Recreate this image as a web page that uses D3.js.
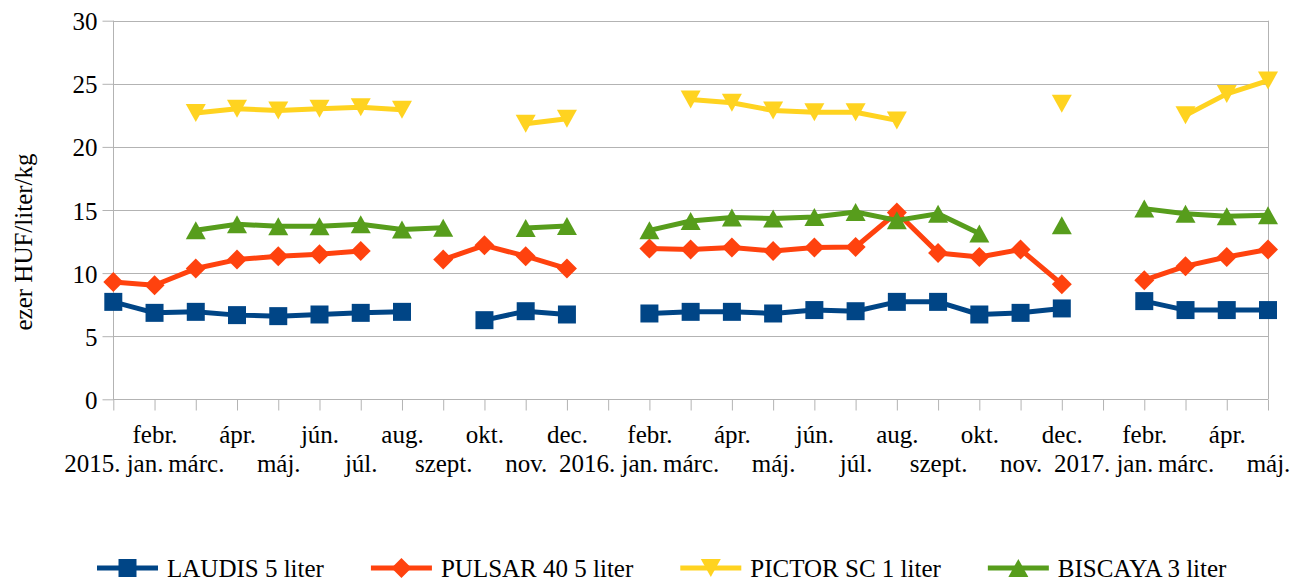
<!DOCTYPE html>
<html>
<head>
<meta charset="utf-8">
<title>Növényvédő szer árak</title>
<script src="https://d3js.org/d3.v7.min.js"></script>
<style>
body { margin: 0; background: #fff; }
svg text { font-family: "Liberation Serif", "Times New Roman", serif; fill: #000; }
.grid line { stroke: #b3b3b3; stroke-width: 1; }
.axis path, .axis line { stroke: #b3b3b3; }
.series path.line { fill: none; stroke-width: 5; stroke-linejoin: round; }
</style>
</head>
<body>
<div id="chart"></div>
<script>
// month labels, 2015 jan .. 2017 máj
var months = ["2015. jan.", "febr.", "márc.", "ápr.", "máj.", "jún.", "júl.", "aug.", "szept.", "okt.", "nov.", "dec.",
  "2016. jan.", "febr.", "márc.", "ápr.", "máj.", "jún.", "júl.", "aug.", "szept.", "okt.", "nov.", "dec.",
  "2017. jan.", "febr.", "márc.", "ápr.", "máj."];

// ezer HUF / liter / kg, null = no data
var laudis = [7.72, 6.85, 6.93, 6.67, 6.59, 6.72, 6.85, 6.93, null, 6.27, 6.98, 6.72,
  null, 6.80, 6.93, 6.93, 6.80, 7.07, 6.98, 7.72, 7.72, 6.72, 6.85, 7.2,
  null, 7.78, 7.07, 7.07, 7.07];
var pulsar = [9.30, 9.04, 10.36, 11.07, 11.34, 11.5, 11.76, null, 11.07, 12.2, 11.34, 10.36,
  null, 11.94, 11.87, 12.03, 11.76, 12.03, 12.07, 14.8, 11.6, 11.28, 11.87, 9.12,
  null, 9.44, 10.55, 11.28, 11.87];
var pictor = [null, null, 22.68, 23.02, 22.89, 23.02, 23.15, 22.94, null, null, 21.83, 22.23,
  null, null, 23.76, 23.5, 22.89, 22.75, 22.75, 22.1, null, null, null, 23.42,
  null, null, 22.5, 24.2, 25.26];
var biscaya = [null, null, 13.39, 13.87, 13.71, 13.71, 13.87, 13.45, 13.6, null, 13.58, 13.74,
  null, 13.39, 14.13, 14.4, 14.32, 14.45, 14.84, 14.18, 14.71, 13.13, null, 13.79,
  null, 15.11, 14.71, 14.5, 14.58];

var seriesNames = ["LAUDIS 5 liter", "PULSAR 40 5 liter", "PICTOR SC 1 liter", "BISCAYA 3 liter"];
var yTicks = [0, 5, 10, 15, 20, 25, 30];

var W = 1291, H = 581;
var pLeft = 113.3, pRight = 1268, pTop = 20.7, pBottom = 399.3;

var series = [
  { name: seriesNames[0], values: laudis, color: "#004586", marker: "square" },
  { name: seriesNames[1], values: pulsar, color: "#ff420e", marker: "diamond" },
  { name: seriesNames[2], values: pictor, color: "#ffd320", marker: "down" },
  { name: seriesNames[3], values: biscaya, color: "#579d1c", marker: "up" }
];

var x = d3.scalePoint().domain(d3.range(months.length)).range([pLeft, pRight]);
var y = d3.scaleLinear().domain([0, 30]).range([pBottom, pTop]);

// marker shapes, roughly 18px boxes
function markerPath(kind) {
  var s = 9;
  if (kind === "square") return "M" + -s + "," + -s + "H" + s + "V" + s + "H" + -s + "Z";
  if (kind === "diamond") return "M0," + (-s - 1) + "L" + (s + 1) + ",0L0," + (s + 1) + "L" + (-s - 1) + ",0Z";
  if (kind === "down") return "M" + (-s - 1) + "," + -s + "L" + (s + 1) + "," + -s + "L0," + s + "Z";
  return "M" + (-s - 1) + "," + s + "L" + (s + 1) + "," + s + "L0," + -s + "Z";
}

var svg = d3.select("#chart").append("svg")
    .attr("width", W)
    .attr("height", H);

// horizontal gridlines
svg.append("g")
    .attr("class", "grid")
  .selectAll("line")
    .data(yTicks)
  .enter().append("line")
    .attr("x1", pLeft)
    .attr("x2", pRight)
    .attr("y1", function(d) { return Math.round(y(d)) + 0.5; })
    .attr("y2", function(d) { return Math.round(y(d)) + 0.5; });

// right border of the plot
svg.append("line")
    .attr("x1", Math.round(pRight) + 0.5).attr("x2", Math.round(pRight) + 0.5)
    .attr("y1", pTop).attr("y2", pBottom)
    .attr("stroke", "#b3b3b3");

// y axis
var yAxis = svg.append("g")
    .attr("class", "axis")
    .attr("transform", "translate(" + (Math.round(pLeft) + 0.5) + ",0)")
    .call(d3.axisLeft(y).tickValues(yTicks).tickSize(11).tickPadding(5));
yAxis.select(".domain").attr("d", "M0," + pTop + "V" + pBottom);
yAxis.selectAll("text")
    .style("font-size", "25px")
    .style("font-family", "Liberation Serif")
    .attr("dy", "0.36em");

// x axis, labels alternate between two rows
var xAxis = svg.append("g")
    .attr("class", "axis")
    .attr("transform", "translate(0," + (Math.round(pBottom) + 0.5) + ")")
    .call(d3.axisBottom(x).tickSize(11).tickFormat(function(i) { return months[i]; }));
xAxis.select(".domain").attr("d", "M" + pLeft + ",0H" + pRight);
xAxis.selectAll("text")
    .style("font-size", "25px")
    .style("font-family", "Liberation Serif")
    .attr("dy", null)
    .attr("y", function(i) { return i % 2 === 1 ? 43.5 : 72.5; });

// y axis title
svg.append("text")
    .attr("transform", "translate(32,242) rotate(-90)")
    .attr("text-anchor", "middle")
    .style("font-size", "25px")
    .text("ezer HUF/liter/kg");

var line = d3.line()
    .defined(function(d) { return d != null; })
    .x(function(d, i) { return x(i); })
    .y(function(d) { return y(d); });

var groups = svg.selectAll(".series")
    .data(series)
  .enter().append("g")
    .attr("class", "series");

groups.each(function(s) {
  var g = d3.select(this);
  g.append("path")
      .attr("class", "line")
      .attr("stroke", s.color)
      .attr("d", line(s.values));
  g.selectAll(".mk")
      .data(s.values.map(function(v, i) { return { v: v, i: i }; }).filter(function(d) { return d.v != null; }))
    .enter().append("path")
      .attr("class", "mk")
      .attr("fill", s.color)
      .attr("transform", function(d) { return "translate(" + x(d.i) + "," + y(d.v) + ")"; })
      .attr("d", markerPath(s.marker));
});

// legend
var legend = svg.append("g").attr("class", "legend");
var lx = 97, ly = 568;
series.forEach(function(s) {
  var item = legend.append("g").attr("transform", "translate(" + lx + "," + ly + ")");
  item.append("line")
      .attr("x1", 0).attr("x2", 61)
      .attr("stroke", s.color)
      .attr("stroke-width", 5);
  item.append("path")
      .attr("transform", "translate(30.5,0)")
      .attr("fill", s.color)
      .attr("d", markerPath(s.marker));
  var t = item.append("text")
      .attr("x", 70)
      .attr("y", 8.5)
      .style("font-size", "25px")
      .text(s.name);
  lx += 70 + t.node().getComputedTextLength() + 47;
});
</script>
</body>
</html>
